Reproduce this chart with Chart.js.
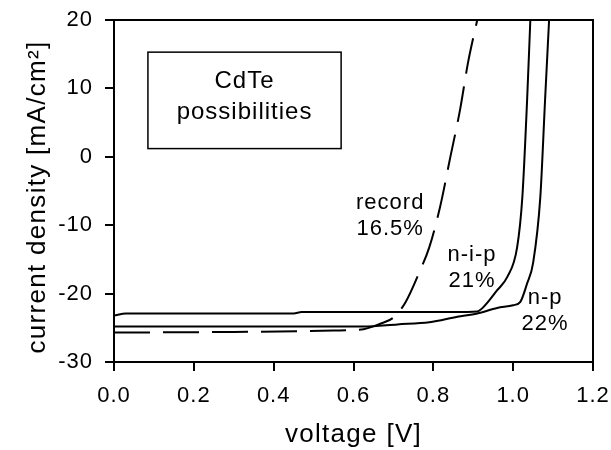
<!DOCTYPE html>
<html>
<head>
<meta charset="utf-8">
<script src="https://cdn.jsdelivr.net/npm/chart.js@4"></script>
<style>
  html, body { margin: 0; padding: 0; background: #fff; }
  #wrap { width: 611px; height: 450px; }
</style>
</head>
<body>
<div id="wrap"><canvas id="jvChart"></canvas></div>
<script>
// voltage [V] and current density [mA/cm2]
var nipV = [0, 0.03, 0.45, 0.47, 0.85, 0.91, 0.925, 0.96, 0.985, 1.01, 1.023, 1.035, 1.043];
var nipJ = [-23.2, -22.9, -22.9, -22.7, -22.7, -22.6, -22.0, -19.5, -17.6, -13.2, -5.9, 8.4, 20];

var npV = [0, 0.3, 0.625, 0.71, 0.79, 0.86, 0.91, 0.96, 1.0, 1.018, 1.035, 1.05, 1.068, 1.08, 1.09];
var npJ = [-24.8, -24.8, -24.8, -24.5, -24.2, -23.4, -22.9, -22.1, -21.7, -21.2, -18.5, -15.5, -5.9, 8.4, 20];

var recV = [0, 0.3, 0.55, 0.625, 0.667, 0.7, 0.73, 0.767, 0.79, 0.817, 0.842, 0.867, 0.887, 0.91];
var recJ = [-25.7, -25.6, -25.4, -25.2, -24.4, -23.5, -21.3, -16.6, -13.2, -7.3, -0.2, 6.9, 13.8, 20];

var xTicks = [0, 0.2, 0.4, 0.6, 0.8, 1.0, 1.2];
var yTicks = [-30, -20, -10, 0, 10, 20];

// curve labels: [text lines, voltage, current density of first line]
var curveLabels = [
    [["record", "16.5%"], 0.692, -6.7],
    [["n-i-p", "21%"], 0.897, -14.4],
    [["n-p", "22%"], 1.080, -20.7]
];

function toPoints(xs, ys) {
    return xs.map(function (x, i) { return { x: x, y: ys[i] }; });
}

var FONT = "'Liberation Sans', Arial, sans-serif";

var frame = {
    id: "frame",
    beforeDraw: function (chart) {
        // the reference text is set a little loose
        chart.ctx.letterSpacing = "1px";
    },
    afterDraw: function (chart) {
        // back to normal so the next layout measures plain text
        chart.ctx.letterSpacing = "0px";
    },
    afterDatasetsDraw: function (chart) {
        var ctx = chart.ctx, a = chart.chartArea;
        var xs = chart.scales.x, ys = chart.scales.y;
        ctx.save();
        ctx.strokeStyle = "#000";
        ctx.lineWidth = 2;
        ctx.strokeRect(a.left, a.top, a.right - a.left, a.bottom - a.top);

        // inset box
        var bx1 = xs.getPixelForValue(0.085), bx2 = xs.getPixelForValue(0.569);
        var by1 = ys.getPixelForValue(15.3), by2 = ys.getPixelForValue(1.2);
        ctx.lineWidth = 1.5;
        ctx.strokeRect(bx1, by1, bx2 - bx1, by2 - by1);
        ctx.fillStyle = "#000";
        ctx.font = "24px " + FONT;
        ctx.textAlign = "center";
        ctx.textBaseline = "middle";
        var cx = (bx1 + bx2) / 2;
        ctx.fillText("CdTe", cx, ys.getPixelForValue(11.0));
        ctx.fillText("possibilities", cx, ys.getPixelForValue(6.5));

        // curve labels
        ctx.font = "22px " + FONT;
        curveLabels.forEach(function (l) {
            var px = xs.getPixelForValue(l[1]);
            var py = ys.getPixelForValue(l[2]);
            l[0].forEach(function (t, i) {
                ctx.fillText(t, px, py + i * 26);
            });
        });

        // axis titles
        ctx.letterSpacing = "1.3px";
        ctx.font = "26px " + FONT;
        ctx.textBaseline = "alphabetic";
        ctx.fillText("voltage [V]", (a.left + a.right) / 2, 442);
        ctx.translate(45, 197);
        ctx.rotate(-Math.PI / 2);
        ctx.fillText("current density [mA/cm\u00B2]", 0, 0);
        ctx.restore();
    }
};

var lineStyle = {
    borderColor: "#000",
    borderWidth: 2,
    pointRadius: 0,
    fill: false,
    cubicInterpolationMode: "monotone"
};

new Chart(document.getElementById("jvChart").getContext("2d"), {
    type: "line",
    data: {
        datasets: [
            Object.assign({ label: "n-i-p", data: toPoints(nipV, nipJ) }, lineStyle),
            Object.assign({ label: "n-p", data: toPoints(npV, npJ) }, lineStyle),
            Object.assign({ label: "record", data: toPoints(recV, recJ), borderDash: [36, 13] }, lineStyle)
        ]
    },
    options: {
        responsive: true,
        maintainAspectRatio: false,
        animation: false,
        layout: { padding: { top: 20, right: 18, left: 0, bottom: 0 } },
        plugins: { legend: { display: false }, tooltip: { enabled: false } },
        scales: {
            x: {
                type: "linear",
                min: 0,
                max: 1.2,
                afterBuildTicks: function (s) { s.ticks = xTicks.map(function (v) { return { value: v }; }); },
                afterFit: function (s) { s.height = 88; s.paddingRight = 0; s.paddingLeft = 0; },
                ticks: {
                    color: "#000",
                    font: { size: 22, family: FONT },
                    padding: 12,
                    maxRotation: 0,
                    callback: function (v) { return v.toFixed(1); }
                },
                grid: { drawOnChartArea: false, tickLength: 9, color: "#000", lineWidth: 2 },
                border: { display: false }
            },
            y: {
                type: "linear",
                min: -30,
                max: 20,
                afterBuildTicks: function (s) { s.ticks = yTicks.map(function (v) { return { value: v }; }); },
                afterFit: function (s) { s.width = 114; s.paddingTop = 0; s.paddingBottom = 0; },
                ticks: {
                    color: "#000",
                    font: { size: 22, family: FONT },
                    padding: 12
                },
                grid: { drawOnChartArea: false, tickLength: 9, color: "#000", lineWidth: 2 },
                border: { display: false }
            }
        }
    },
    plugins: [frame]
});
</script>
</body>
</html>
